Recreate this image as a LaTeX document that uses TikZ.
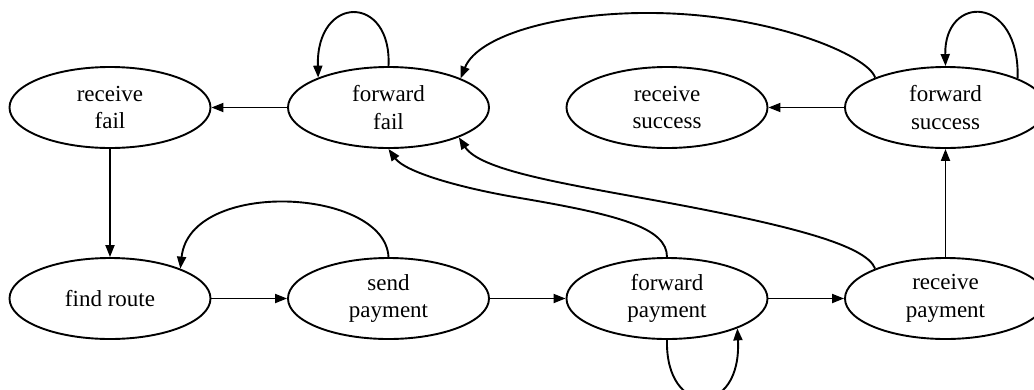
\documentclass[tikz,border=0pt]{standalone}
\usepackage{fontspec}
\setmainfont{Liberation Serif}
\usetikzlibrary{shapes.geometric,arrows.meta}
\begin{document}
\begin{tikzpicture}[x=1pt,y=-1pt,
  state/.style={ellipse, draw, line width=1.9pt, minimum width=201pt, minimum height=81pt,
    inner sep=0pt, align=center, font=\fontsize{23}{27.6}\selectfont},
  edge/.style={line width=1.9pt, -{Triangle[length=12pt,width=9pt]}}]
\useasboundingbox (0,0) rectangle (1034,389);
\node[state] (rf) at (110,107.5) {receive\\fail};
\node[state] (ff) at (388.5,107.5) {forward\\fail};
\node[state] (rs) at (667,107.5) {receive\\success};
\node[state] (fs) at (945.5,107.5) {forward\\success};
\node[state] (fr) at (110,298.5) {find route};
\node[state] (sp) at (388.5,298.5) {send\\payment};
\node[state] (fp) at (667,298.5) {forward\\payment};
\node[state] (rp) at (945.5,298.5) {receive\\payment};
% straight edges
\draw[edge] (ff.west) -- (rf.east);
\draw[edge] (fs.west) -- (rs.east);
\draw[edge] (rf.south) -- (fr.north);
\draw[edge] (rp.north) -- (fs.south);
\draw[edge] (fr.east) -- (sp.west);
\draw[edge] (sp.east) -- (fp.west);
\draw[edge] (fp.east) -- (rp.west);
% self loops
\draw[edge] (ff.north) .. controls (392,-6) and (316,-6) .. (ff.157);
\draw[edge] (fs.22) .. controls (1020,-6) and (944,-6) .. (fs.north);
\draw[edge] (fp.south) .. controls (665,418) and (742,418) .. (fp.-23);
% curved edges
\draw[edge] (fs.157) .. controls (868,55) and (770,14) .. (653,13)
  .. controls (560,12) and (478,35) .. (ff.22);
\draw[edge] (sp.north) .. controls (385,188) and (190,178) .. (fr.23);
\draw[edge] (fp.north) .. controls (667,228) and (620,215) .. (520,198)
  .. controls (460,188) and (405,172) .. (ff.south);
\draw[edge] (rp.157) .. controls (866,245) and (790,225) .. (653,200)
  .. controls (560,183) and (480,170) .. (ff.-23);
\end{tikzpicture}
\end{document}
